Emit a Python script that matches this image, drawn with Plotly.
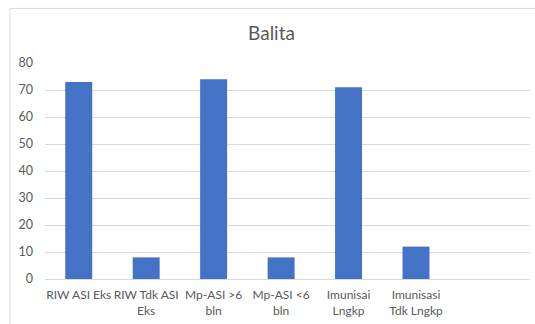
import plotly.graph_objects as go

# Balita indicators and their counts
categories = [
    "RIW ASI Eks",
    "RIW Tdk ASI Eks",
    "Mp-ASI >6 bln",
    "Mp-ASI <6 bln",
    "Imunisai Lngkp",
    "Imunisasi Tdk Lngkp",
]
tick_labels = [
    "RIW ASI Eks",
    "RIW Tdk ASI<br>Eks",
    "Mp-ASI &gt;6<br>bln",
    "Mp-ASI &lt;6<br>bln",
    "Imunisai<br>Lngkp",
    "Imunisasi<br>Tdk Lngkp",
]
values = [73, 8, 74, 8, 71, 12]
y_ticks = [0, 10, 20, 30, 40, 50, 60, 70, 80]

positions = list(range(len(categories)))

TEXT = "#595959"
GRID = "#d9d9d9"
FONT = "Lato, 'Liberation Sans', sans-serif"

fig = go.Figure(
    go.Bar(
        x=positions,
        y=values,
        width=0.4,
        marker=dict(color="#4472c4", line=dict(width=0)),
        hovertext=categories,
    )
)

fig.update_layout(
    width=535,
    height=324,
    margin=dict(l=45, r=5, t=63, b=45),
    paper_bgcolor="white",
    plot_bgcolor="white",
    showlegend=False,
    font=dict(family=FONT, color=TEXT, size=12),
    title=dict(
        text="Balita",
        x=271.5 / 535,
        xref="container",
        xanchor="center",
        y=1 - 33 / 324,
        yref="container",
        yanchor="middle",
        font=dict(size=19, color=TEXT, family=FONT),
    ),
    xaxis=dict(
        range=[-0.5, 6.69],
        tickmode="array",
        tickvals=positions,
        ticktext=tick_labels,
        showgrid=False,
        showline=False,
        zeroline=False,
        ticks="",
        tickangle=0,
        ticklabelstandoff=7,
        tickfont=dict(size=12, color=TEXT),
    ),
    yaxis=dict(
        range=[0, 80],
        tickmode="array",
        tickvals=y_ticks,
        showgrid=True,
        gridcolor=GRID,
        gridwidth=1,
        zeroline=True,
        zerolinecolor=GRID,
        zerolinewidth=1,
        showline=False,
        ticks="",
        ticklabelstandoff=11,
        tickfont=dict(size=12.5, color=TEXT),
    ),
    shapes=[
        dict(
            type="rect",
            xref="paper",
            yref="paper",
            x0=(10 - 45) / 485,
            x1=1.2,
            y0=-0.4,
            y1=(278.7 - 8.5) / 215.7,
            line=dict(color=GRID, width=1),
            fillcolor="rgba(0,0,0,0)",
            layer="below",
        )
    ],
)

fig.write_html("out.html")
